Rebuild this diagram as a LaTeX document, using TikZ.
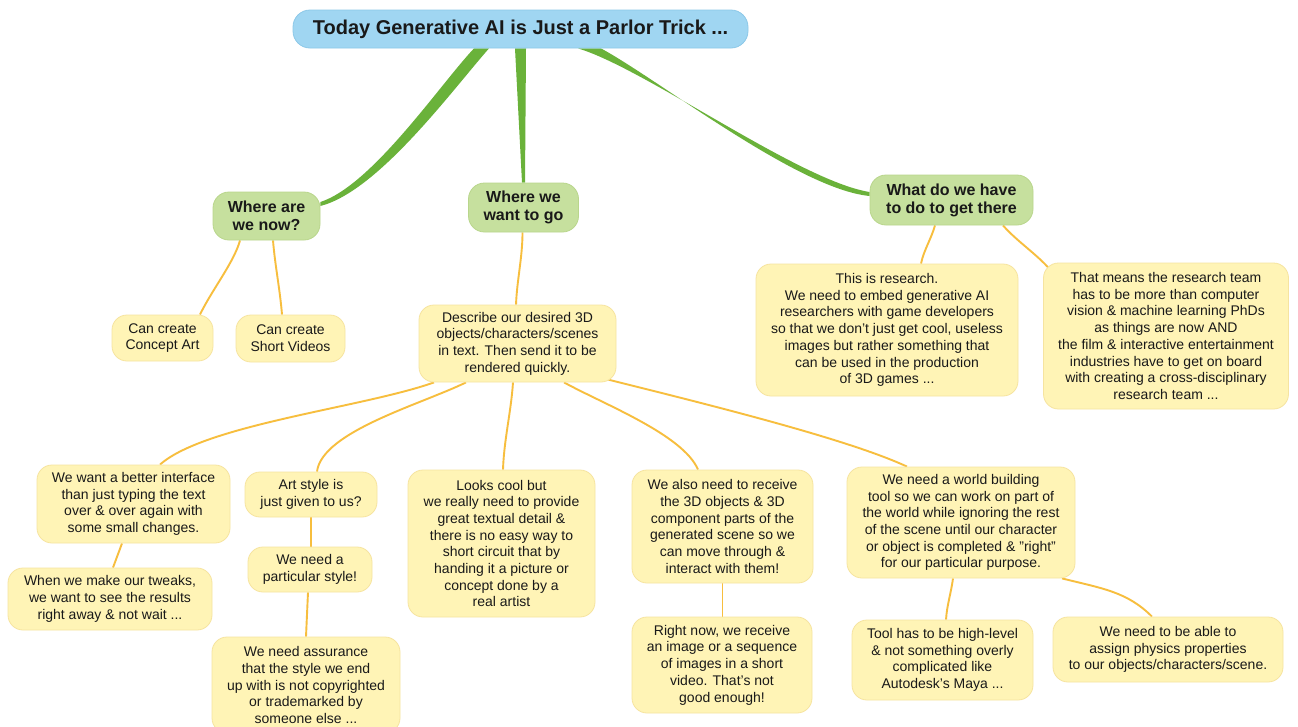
\documentclass[tikz,border=0pt]{standalone}
\usepackage{fontspec}
\setmainfont{Liberation Sans}
\usetikzlibrary{calc}
\pgfdeclarelayer{links}
\pgfsetlayers{links,main}

\definecolor{titlefill}{RGB}{160,214,242}
\definecolor{titleline}{RGB}{140,200,232}
\definecolor{headfill}{RGB}{198,224,158}
\definecolor{headline}{RGB}{185,214,140}
\definecolor{notefill}{RGB}{255,244,182}
\definecolor{noteline}{RGB}{246,228,160}
\definecolor{twig}{RGB}{247,190,62}
\definecolor{branchgreen}{RGB}{106,178,58}
\definecolor{ink}{RGB}{25,25,25}

\tikzset{
  note/.style={rounded corners=15pt, draw=noteline, fill=notefill, line width=0.8pt,
    align=center, inner sep=0pt, text=ink, font=\fontsize{14}{16.7}\selectfont},
  head/.style={rounded corners=16pt, draw=headline, fill=headfill, line width=0.8pt,
    align=center, inner sep=0pt, text=ink, font=\bfseries\fontsize{16}{18}\selectfont},
  topic/.style={rounded corners=17pt, draw=titleline, fill=titlefill, line width=0.8pt,
    align=center, inner sep=0pt, text=ink, font=\bfseries\fontsize{20}{22}\selectfont},
  twigline/.style={draw=twig, line width=1.9pt},
  branch/.style={fill=branchgreen},
}

\begin{document}
\begin{tikzpicture}[x=1pt,y=-1pt]
\path[use as bounding box] (0,0) rectangle (1298,726);
\clip (0,0) rectangle (1298,726);

% central topic
\node[topic, minimum width=455pt, minimum height=38pt] (title) at (520.5,29)
  {Today Generative AI is Just a Parlor Trick ...};

% main branches
\node[head, minimum width=107pt, minimum height=48pt] (now) at (266.5,216)
  {Where are\\we now?};
\node[head, minimum width=110pt, minimum height=49pt] (want) at (523.5,207.5)
  {Where we\\want to go};
\node[head, minimum width=163pt, minimum height=50pt] (what) at (951.5,200)
  {What do we have\\to do to get there};

% where we are now
\node[note, minimum width=101pt, minimum height=46pt] (concept) at (162.5,338)
  {Can create\\Concept Art};
\node[note, minimum width=109pt, minimum height=47pt] (videos) at (290.5,338.5)
  {Can create\\Short Videos};

% where we want to go
\node[note, minimum width=197pt, minimum height=77pt] (describe) at (517.5,343.5)
  {Describe our desired 3D\\objects/characters/scenes\\in text. Then send it to be\\rendered quickly.};

\node[note, minimum width=193pt, minimum height=78pt] (iface) at (133.5,504)
  {We want a better interface\\than just typing the text\\over \& over again with\\some small changes.};
\node[note, minimum width=204pt, minimum height=62pt] (tweaks) at (110,599)
  {When we make our tweaks,\\we want to see the results\\right away \& not wait ...};

\node[note, minimum width=132pt, minimum height=45pt] (art) at (311,494.5)
  {Art style is\\just given to us?};
\node[note, minimum width=124pt, minimum height=45pt] (particular) at (310,569.5)
  {We need a\\particular style!};
\node[note, minimum width=188pt, minimum height=96pt] (assurance) at (306,685)
  {We need assurance\\that the style we end\\up with is not copyrighted\\or trademarked by\\someone else ...};

\node[note, minimum width=187pt, minimum height=147pt] (looks) at (501.5,543.5)
  {Looks cool but\\we really need to provide\\great textual detail \&\\there is no easy way to\\short circuit that by\\handing it a picture or\\concept done by a\\real artist};

\node[note, minimum width=181pt, minimum height=113pt] (also) at (722.5,526.5)
  {We also need to receive\\the 3D objects \& 3D\\component parts of the\\generated scene so we\\can move through \&\\interact with them!};
\node[note, minimum width=180pt, minimum height=96pt] (rightnow) at (722,665)
  {Right now, we receive\\an image or a sequence\\of images in a short\\video. That's not\\good enough!};

\node[note, minimum width=228pt, minimum height=111pt] (world) at (961,522.5)
  {We need a world building\\tool so we can work on part of\\the world while ignoring the rest\\of the scene until our character\\or object is completed \& "right"\\for our particular purpose.};
\node[note, minimum width=181pt, minimum height=80pt] (tool) at (942.5,660)
  {Tool has to be high-level\\\& not something overly\\complicated like\\Autodesk's Maya ...};
\node[note, minimum width=230pt, minimum height=65pt] (physics) at (1168,649.5)
  {We need to be able to\\assign physics properties\\to our objects/characters/scene.};

% what we have to do
\node[note, minimum width=262pt, minimum height=132pt] (research) at (887,330)
  {This is research.\\We need to embed generative AI\\researchers with game developers\\so that we don't just get cool, useless\\images but rather something that\\can be used in the production\\of 3D games ...};
\node[note, minimum width=245pt, minimum height=146pt] (means) at (1166,336)
  {That means the research team\\has to be more than computer\\vision \& machine learning PhDs\\as things are now AND\\the film \& interactive entertainment\\industries have to get on board\\with creating a cross-disciplinary\\research team ...};

\begin{pgfonlayer}{links}
\fill[white] (0,0) rectangle (1298,726);
% tapered green branches from the central topic
\fill[branch] ([xshift=-46.5pt]title.south) .. controls +(-34,36) and +(52,-17) .. ([yshift=14pt]now.east)
  -- ([yshift=10pt]now.east) .. controls +(58,-15) and +(-37,42) .. ([xshift=-31.5pt]title.south) -- cycle;
\fill[branch] ([xshift=-5.5pt]title.south) -- ([xshift=5.5pt]title.south)
  -- ([xshift=1.5pt]want.north) -- ([xshift=-1.5pt]want.north) -- cycle;
\fill[branch] ([xshift=57.5pt]title.south) .. controls +(67,20) and +(-70,-11) .. ([yshift=8pt]what.west)
  -- ([yshift=4pt]what.west) .. controls +(-72,-7) and +(59,32) .. ([xshift=80.5pt]title.south) -- cycle;

% orange twigs
\draw[twigline] ([xshift=-26.5pt]now.south) .. controls +(-6,22) and +(12,-25) .. ([xshift=37.5pt]concept.north);
\draw[twigline] ([xshift=6.5pt]now.south) .. controls +(2,25) and +(-2,-25) .. ([xshift=-8.5pt]videos.north);
\draw[twigline] ([xshift=-1pt]want.south) .. controls +(0,25) and +(1,-25) .. ([xshift=-1.5pt]describe.north);
\draw[twigline] ([xshift=-16.5pt]what.south) .. controls +(-4,14) and +(3,-14) .. ([xshift=34pt]research.north);
\draw[twigline] ([xshift=51.5pt]what.south) .. controls +(14,16) and +(-14,-16) .. ([xshift=7pt,yshift=-7pt]means.north west);

\draw[twigline] ([xshift=-83.5pt]describe.south) .. controls +(-70,25) and +(45,-40) .. ([xshift=26.5pt]iface.north);
\draw[twigline] ([xshift=-51.5pt]describe.south) .. controls +(-45,22) and +(5,-40) .. ([xshift=6pt]art.north);
\draw[twigline] ([xshift=-4.5pt]describe.south) .. controls +(-2,30) and +(1,-30) .. ([xshift=1.5pt]looks.north);
\draw[twigline] ([xshift=46.5pt]describe.south) .. controls +(40,22) and +(-15,-35) .. ([xshift=-24.5pt]also.north);
\draw[twigline] ([xshift=-13pt,yshift=4pt]describe.south east) .. controls +(100,25) and +(-60,-28) .. ([xshift=-54pt]world.north);

\draw[twigline] ([xshift=-11.5pt]iface.south) -- ([xshift=3pt]tweaks.north);
\draw[twigline] (art.south) -- ([xshift=1pt]particular.north);
\draw[twigline] ([xshift=-2pt]particular.south) -- (assurance.north);
\draw[twigline] (also.south) -- ([xshift=0.5pt]rightnow.north);
\draw[twigline] ([xshift=-8pt]world.south) .. controls +(-2,15) and +(1,-15) .. ([xshift=3.5pt]tool.north);
\draw[twigline] ([xshift=101pt]world.south) .. controls +(40,10) and +(-25,-25) .. ([xshift=-16pt]physics.north);
\end{pgfonlayer}
\end{tikzpicture}
\end{document}
